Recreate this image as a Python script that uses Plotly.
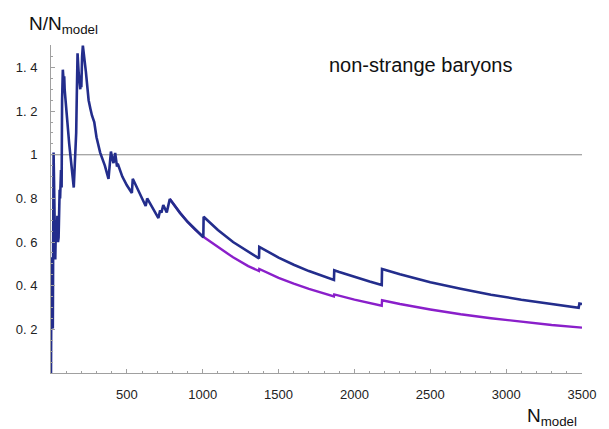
import plotly.graph_objects as go

# ---- data ----
blue_x = [0, 2, 3, 10, 12, 17, 20, 28, 33, 38, 42, 46, 50, 57, 60, 66, 70, 73, 78, 80, 84, 87, 90,
          120, 150, 158, 166, 170, 175, 182, 193, 197, 200, 205, 210, 230, 248, 260, 270, 285, 300,
          324, 335, 355, 379, 395, 405, 412, 423, 430, 435, 440, 470, 500, 533, 539, 580, 624, 634,
          670, 708, 719, 728, 740, 748, 763, 783, 850, 900, 950, 1004, 1006, 1100, 1200, 1300, 1371,
          1373, 1500, 1600, 1700, 1865, 1867, 1900, 2000, 2100, 2180, 2182, 2300, 2500, 2700, 2900,
          3100, 3300, 3478, 3483, 3500]
blue_y = [0.0, 0.53, 0.53, 0.21, 0.21, 1.01, 0.85, 0.52, 0.70, 0.60, 0.72, 0.60, 0.62, 0.84, 0.80,
          0.93, 0.85, 1.25, 1.39, 1.37, 1.33, 1.36, 1.30,
          1.05, 0.85, 1.00, 1.10, 1.27, 1.465, 1.38, 1.30, 1.36, 1.31, 1.45, 1.50, 1.38, 1.25, 1.21,
          1.18, 1.15, 1.08,
          1.01, 0.99, 0.95, 0.89, 1.015, 0.98, 0.962, 1.008, 0.975, 0.946, 0.959, 0.90, 0.86, 0.825,
          0.89, 0.83, 0.765, 0.80,
          0.755, 0.71, 0.745, 0.735, 0.77, 0.76, 0.736, 0.797, 0.734, 0.693, 0.657, 0.622, 0.716,
          0.655, 0.600, 0.554, 0.525,
          0.578, 0.529, 0.496, 0.467, 0.426, 0.471, 0.463, 0.440, 0.419, 0.403, 0.477, 0.453, 0.416,
          0.386, 0.359,
          0.336, 0.315, 0.299, 0.318, 0.316]

purple_x = [783, 850, 900, 950, 1004, 1100, 1200, 1300, 1371, 1373, 1500, 1600, 1700, 1865, 1867,
            2000, 2100, 2180, 2182, 2300, 2500, 2700, 2900, 3100, 3300, 3500]
purple_y = [0.797, 0.734, 0.693, 0.657, 0.624, 0.578, 0.530, 0.490, 0.467, 0.477, 0.436, 0.409,
            0.385, 0.351, 0.360, 0.336, 0.320, 0.308, 0.333, 0.316, 0.291, 0.269, 0.251, 0.235,
            0.220, 0.208]

ref_level = 1.0
x_tick_vals = [500, 1000, 1500, 2000, 2500, 3000, 3500]
x_tick_text = ["500", "1000", "1500", "2000", "2500", "3000", "3500"]
y_tick_vals = [0.2, 0.4, 0.6, 0.8, 1.0, 1.2, 1.4]
y_tick_text = ["0. 2", "0. 4", "0. 6", "0. 8", "1", "1. 2", "1. 4"]

BLUE = "#232d8c"
PURPLE = "#8a1fca"
AXIS = "#a0a0a0"
FONT = "Liberation Sans, Arial, sans-serif"

fig = go.Figure()
fig.add_trace(go.Scatter(x=purple_x, y=purple_y, mode="lines",
                         line=dict(color=PURPLE, width=2.4), hoverinfo="skip"))
fig.add_trace(go.Scatter(x=blue_x, y=blue_y, mode="lines",
                         line=dict(color=BLUE, width=2.6), hoverinfo="skip"))

fig.add_hline(y=ref_level, line=dict(color="#888888", width=1), layer="below")

fig.update_layout(
    width=609, height=429,
    margin=dict(l=51, r=27, t=45, b=56, autoexpand=False),
    paper_bgcolor="white", plot_bgcolor="white",
    showlegend=False,
    font=dict(family=FONT, size=13, color="#222222"),
)
fig.update_xaxes(
    range=[0, 3500], showgrid=False, zeroline=False, automargin=False,
    showline=True, linecolor=AXIS, linewidth=1,
    tickvals=x_tick_vals, ticktext=x_tick_text,
    ticks="inside", ticklen=4, tickcolor=AXIS,
    ticklabelstandoff=9,
    minor=dict(ticks="inside", ticklen=2, dtick=100, tickcolor=AXIS, showgrid=False),
    tickfont=dict(family=FONT, size=13, color="#222222"),
)
fig.update_yaxes(
    range=[0, 1.503], showgrid=False, zeroline=False, automargin=False,
    showline=True, linecolor=AXIS, linewidth=1,
    tickvals=y_tick_vals, ticktext=y_tick_text,
    ticks="inside", ticklen=4, tickcolor=AXIS,
    ticklabelstandoff=10,
    minor=dict(ticks="inside", ticklen=2, dtick=0.05, tickcolor=AXIS, showgrid=False),
    tickfont=dict(family=FONT, size=13, color="#222222"),
)

fig.add_annotation(text="N/N<sub>model</sub>", xref="paper", yref="paper",
                   x=-0.045, y=1.0, xanchor="left", yanchor="bottom", yshift=6,
                   showarrow=False, font=dict(family=FONT, size=19, color="#111111"))
fig.add_annotation(text="N<sub>model</sub>", xref="paper", yref="paper",
                   x=0.995, y=0, xanchor="right", yanchor="top", yshift=-30,
                   showarrow=False, font=dict(family=FONT, size=19, color="#111111"))
fig.add_annotation(text="non-strange baryons", xref="paper", yref="paper",
                   x=0.52, y=0.94, xanchor="left", yanchor="middle",
                   showarrow=False, font=dict(family=FONT, size=20, color="#111111"))

fig.write_html("out.html", config={"displayModeBar": False},
               post_script="document.body.style.margin='0';document.body.style.overflow='hidden';")
